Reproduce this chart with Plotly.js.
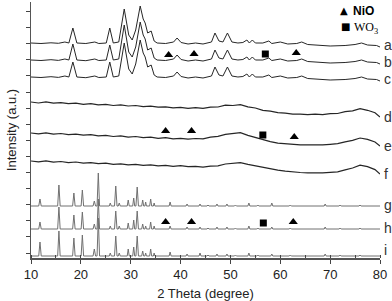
<!DOCTYPE html>
<html>
<head>
<meta charset="utf-8">
<script src="https://cdn.plot.ly/plotly-3.0.1.min.js"></script>
<style>html,body{margin:0;padding:0;background:#fff;}#chart{width:392px;height:301px;}</style>
</head>
<body>
<div id="chart"></div>
<script>
// ---- Data (intensity in a.u., curves stacked) ----
// Patterns a, b, c share the same 2-theta sampling
const abcX = [10,12,14,15.5,16.8,17.6,18.4,19.2,21,22.8,23.6,25.1,25.8,26.5,27.6,28.7,29.6,30.3,31.0,31.9,32.5,32.9,33.4,34.1,34.7,35.3,37,38.6,39.3,40.1,41.5,43,44.5,46.2,46.9,47.7,48.5,49.4,50.3,51.5,52.5,53.3,53.8,54.4,55,56.5,57.7,58.3,60,61.5,63.3,64.3,65.5,67,70,73,75,76.3,77.5,79.3,80];
const aY = [215,214.5,215.2,214.7,216,215,230,215,214.5,216,214.5,215,230,215,216,249,223,218,228,252,239,235,225,227,217,215,214.5,216,220,215.5,214,215,214,216,225,217,216,225,216,215,215.5,218,215,218,215,215,217,214.5,216,214,214.5,216,213.5,213,212,212.5,213.5,215,213,212.5,211];
const bY = [198,197.5,198.3,197.6,199,198,214,198,197.3,199,197.5,198,213,198,199,233,206,201,211,236,223,219,208,210,200,198,197.5,199,203,198.5,197,198,197,199,208,200,199,208,199,198,198.5,201,198,201,198,198,200,197.5,199,197,197.5,199,196.5,196,195,195.5,196.5,198,196,195.5,194];
const cY = [181,180.5,181.3,180.6,182,181,196,181,180.3,182,180.5,181,196,181,182,215,189,184,194,218,205,201,191,193,183,181,180.5,182,186,181.5,180,181,180,182,191,183,182,191,182,181,181.5,184,181,184,181,181,183,180.5,182,180,180.5,182,179.5,179,178,178.5,179.5,181,179,178.5,177];

// Patterns d, e, f (amorphous) share the same sampling
const defX = [10,11.5,13,14.5,16,17.5,19,20.5,22,23.5,25,26.5,28,29.5,31,32.5,34,35.5,37,38.5,40,41.5,43,44.5,46,47.5,49,50.5,52,53.5,55,56.5,58,59.5,61,62.5,64,65.5,67,68.5,70,71.5,73,74.5,76,77.5,79,80];
const dY = [156,155,156.1,154.8,155.4,154.3,154.8,153.7,154.3,153.2,153.6,152.5,153.1,152,152.5,151.3,151.9,150.8,151.2,150.1,150.6,149.6,150.3,149.6,150.9,151,152.8,152.5,153.4,151.2,150,147.6,146.8,145.3,144.8,143.8,143.9,143.3,143.8,143.4,144.3,144.5,146.3,147.2,149.4,147.7,145.2,141];
const eY = [125,124.1,125.1,123.9,124.5,123.4,123.9,122.8,123.3,122.2,122.6,121.5,122.1,120.9,121.5,120.3,120.8,119.7,120.3,119.2,119.7,118.9,119.5,119.1,120.8,121.7,123.6,124.4,125.4,122.6,120.5,117.8,116.4,114.8,114.1,113.4,113.2,113.1,113,113.2,113.7,114.3,116.2,117.6,120,118.6,116,112];
const fY = [97,96.1,97.1,95.9,96.5,95.4,96,94.9,95.4,94.3,94.8,93.7,94.2,93.1,93.7,92.6,93.1,92.1,92.7,91.7,92.4,91.3,91.7,90.9,91.8,92.2,94,94.6,95.4,93.6,92.2,90.2,89.2,87.8,86.9,86,85.5,85.2,85.1,85.1,85.7,86.2,88.2,90,92.8,91.3,88.4,84];

// Patterns g, h, i (reference powders) share the same sampling
const ghiX = [10,
 11.55,11.8,12.05, 15.35,15.6,15.85, 18.35,18.6,18.85, 20.05,20.3,20.55, 22.45,22.7,22.95,
 23.25,23.5,23.75, 25.7,25.9,26.1, 26.75,27.0,27.25, 27.5,27.7,27.9, 29.3,29.5,29.7,
 30.4,30.6,30.8, 31.05,31.3,31.55, 32.2,32.4,32.6, 32.85,33.0,33.15, 33.8,34.0,34.2,
 34.55,34.7,34.85, 37.7,37.9,38.1, 41.1,41.3,41.5, 43.7,43.9,44.1, 45.3,45.5,45.7,
 47.1,47.3,47.5, 49.1,49.3,49.5, 50.8,51.0,51.2, 53.5,53.7,53.9, 55.3,55.5,55.7,
 58.1,58.3,58.5, 61.8,62.0,62.2, 68.8,69.0,69.2, 71.8,72.0,72.2, 75.8,76.0,76.2, 80];
const gY = [52,
 52,59,52, 52,73,52, 52,65,52, 52,68,52, 52,57,52,
 52,85,52, 52,55,52, 52,72,52, 52,55,52, 52,58,52,
 52,60,52, 52,71,52, 52,58,52, 52,56,52, 52,59,52,
 52,55,52, 52,56,52, 52,54,52, 52,54,52, 52,53,52,
 52,54,52, 52,54,52, 52,53,52, 52,55,52, 52,53,52,
 52,55,52, 52,53,52, 52,54,52, 52,53,52, 52,53,52, 52];
const hY = [29,
 29,36,29, 29,51,29, 29,43,29, 29,46,29, 29,34,29,
 29,59,29, 29,32,29, 29,47,29, 29,32,29, 29,35,29,
 29,38,29, 29,47,29, 29,34,29, 29,32,29, 29,36,29,
 29,32,29, 29,32,29, 29,31,29, 29,31,29, 29,30,29,
 29,31,29, 29,31,29, 29,30,29, 29,32,29, 29,30,29,
 29,31,29, 29,30,29, 29,31,29, 29,30,29, 29,30,29, 29];
const iY = [2,
 2,16,2, 2,27,2, 2,20,2, 2,23,2, 2,9,2,
 2,40,2, 2,5,2, 2,22,2, 2,5,2, 2,9,2,
 2,11,2, 2,22,2, 2,7,2, 2,5,2, 2,9,2,
 2,5,2, 2,6,2, 2,4,2, 2,5,2, 2,3,2,
 2,4,2, 2,4,2, 2,3,2, 2,5,2, 2,3,2,
 2,4,2, 2,3,2, 2,4,2, 2,3,2, 2,3,2, 2];

// Phase markers
const nioX = [37.6,42.7,63.2, 37.0,42.2,62.8, 37.0,42.2,62.6];
const nioY = [203,204,205, 127,127,121, 36,36,36];
const wo3X = [57.0, 56.5, 56.6];
const wo3Y = [204, 123, 35];

// Curve labels
const curveNames = ['a','b','c','d','e','f','g','h','i'];
const labelY = [213,196,179,141,112,84,53,30,8];

const darkColor = '#262626';
const grayColor = '#707070';

function line(x, y, color, name, w) {
  return {x: x, y: y, type: 'scatter', mode: 'lines', name: name, showlegend: false,
          line: {color: color, width: w}, hoverinfo: 'skip'};
}

const traces = [
  line(abcX, aY, darkColor, 'a', 1),
  line(abcX, bY, darkColor, 'b', 1),
  line(abcX, cY, darkColor, 'c', 1),
  line(defX, dY, darkColor, 'd', 1.2),
  line(defX, eY, darkColor, 'e', 1.2),
  line(defX, fY, darkColor, 'f', 1.2),
  line(ghiX, gY, grayColor, 'g', 1),
  line(ghiX, hY, grayColor, 'h', 1),
  line(ghiX, iY, grayColor, 'i', 1),
  {x: nioX, y: nioY, type: 'scatter', mode: 'markers', name: 'NiO', showlegend: false,
   marker: {symbol: 'triangle-up', size: 8, color: '#000'}},
  {x: wo3X, y: wo3Y, type: 'scatter', mode: 'markers', name: 'WO3', showlegend: false,
   marker: {symbol: 'square', size: 7, color: '#000'}}
];

const annotations = curveNames.map((n, k) => ({
  x: 80, y: labelY[k], xref: 'x', yref: 'y', text: n, showarrow: false,
  xanchor: 'left', yanchor: 'middle', xshift: 2,
  font: {family: 'Liberation Sans, Arial, sans-serif', size: 14, color: '#333'}
}));
annotations.push(
  {xref: 'paper', yref: 'paper', x: 0.897, y: 0.966, text: '▲', showarrow: false,
   xanchor: 'center', yanchor: 'middle', font: {family: 'DejaVu Sans', size: 10, color: '#000'}},
  {xref: 'paper', yref: 'paper', x: 0.917, y: 0.966, text: '<b>NiO</b>', showarrow: false,
   xanchor: 'left', yanchor: 'middle', font: {family: 'Liberation Sans, Arial, sans-serif', size: 12, color: '#000'}},
  {xref: 'paper', yref: 'paper', x: 0.900, y: 0.905, text: '■', showarrow: false,
   xanchor: 'center', yanchor: 'middle', font: {family: 'DejaVu Sans', size: 10, color: '#000'}},
  {xref: 'paper', yref: 'paper', x: 0.919, y: 0.898, text: 'WO<sub>3</sub>', showarrow: false,
   xanchor: 'left', yanchor: 'middle', font: {family: 'Liberation Serif, Times New Roman, serif', size: 12, color: '#000'}}
);

const layout = {
  width: 392, height: 301,
  margin: {l: 31, r: 12, t: 2, b: 43, pad: 0},
  paper_bgcolor: '#fff', plot_bgcolor: '#fff',
  font: {family: 'Liberation Sans, Arial, sans-serif', color: '#222'},
  showlegend: false,
  xaxis: {
    range: [10, 80], tick0: 10, dtick: 10, ticks: 'outside', ticklen: 4, tickwidth: 1, tickcolor: '#444',
    showline: true, linecolor: '#555', linewidth: 1.5, zeroline: false, showgrid: false,
    tickfont: {size: 13, color: '#222'},
    minor: {dtick: 5, ticks: 'inside', ticklen: 3, tickcolor: '#444', showgrid: false},
    title: {text: '2 Theta (degree)', font: {size: 13, color: '#222'}, standoff: 8}
  },
  yaxis: {
    range: [0, 256], tick0: 5, dtick: 16.1, ticks: 'outside', ticklen: 4, tickwidth: 1, tickcolor: '#444',
    showticklabels: false, showline: true, linecolor: '#555', linewidth: 1.5, zeroline: false, showgrid: false,
    title: {text: 'Intensity (a.u.)', font: {size: 13, color: '#222'}, standoff: 6}
  },
  annotations: annotations
};

Plotly.newPlot('chart', traces, layout, {displayModeBar: false, staticPlot: true});
</script>
</body>
</html>
